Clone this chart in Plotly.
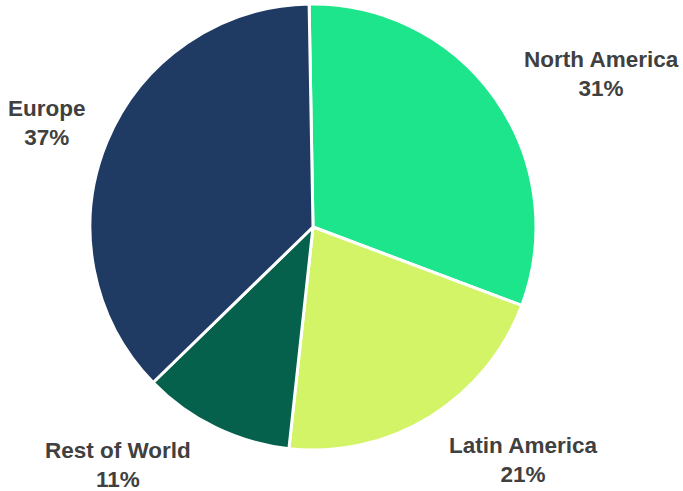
import plotly.graph_objects as go

regions = ["North America", "Latin America", "Rest of World", "Europe"]
shares = [31, 21, 11, 37]
colors = ["#1DE58B", "#D3F466", "#05614B", "#1F3A63"]

# label block positions (pixels from top-left) - layout only
label_pos = {
    "North America": (601, 74),
    "Latin America": (523, 460),
    "Rest of World": (118, 465),
    "Europe": (47, 123),
}

W, H = 683, 491
cx, cy, r = 313, 227, 223

fig = go.Figure(go.Pie(
    labels=regions,
    values=shares,
    sort=False,
    direction="clockwise",
    rotation=-1,
    marker=dict(colors=colors, line=dict(color="white", width=3)),
    textinfo="none",
    hoverinfo="label+percent",
    domain=dict(x=[(cx - r) / W, (cx + r) / W], y=[(H - cy - r) / H, (H - cy + r) / H]),
    showlegend=False,
))

for name, val in zip(regions, shares):
    px, py = label_pos[name]
    fig.add_annotation(
        x=px / W, y=1 - py / H, xref="paper", yref="paper",
        text=f"<b>{name}<br>{val}%</b>",
        showarrow=False, xanchor="center", yanchor="middle",
        font=dict(family="Liberation Sans, Arial, sans-serif", size=22.5, color="#404040"),
        align="center",
    )

fig.update_layout(
    width=W, height=H,
    margin=dict(l=0, r=0, t=0, b=0),
    paper_bgcolor="white", plot_bgcolor="white",
)

fig.write_html(
    "out.html",
    config={"displayModeBar": False},
    post_script="document.body.style.margin='0';document.body.style.overflow='hidden';",
)
